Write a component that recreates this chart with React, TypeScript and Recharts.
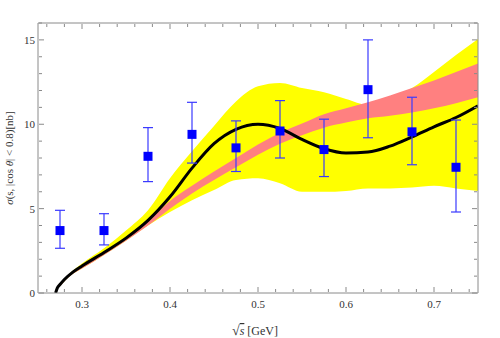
import React from 'react';
import {
  ComposedChart,
  Area,
  Line,
  Scatter,
  ErrorBar,
  XAxis,
  YAxis,
} from 'recharts';

// theory curves, sampled along sqrt(s) in GeV
const xs = [0.27, 0.272, 0.275, 0.28, 0.29, 0.3, 0.325, 0.35, 0.375, 0.4, 0.425, 0.45, 0.475, 0.5, 0.525, 0.55, 0.575, 0.6, 0.625, 0.65, 0.675, 0.7, 0.725, 0.75];
const central = [0, 0.3, 0.5, 0.8, 1.25, 1.6, 2.4, 3.25, 4.3, 5.7, 7.4, 8.85, 9.7, 10.0, 9.75, 9.1, 8.55, 8.3, 8.35, 8.7, 9.25, 9.85, 10.4, 11.1];
const pinkLow = [0, 0.25, 0.4, 0.7, 1.15, 1.45, 2.25, 3.1, 4.0, 5.0, 5.9, 6.7, 7.45, 8.2, 8.85, 9.35, 9.8, 10.1, 10.35, 10.5, 10.7, 10.95, 11.25, 11.6];
const pinkHigh = [0, 0.3, 0.5, 0.8, 1.25, 1.6, 2.4, 3.25, 4.25, 5.45, 6.35, 7.2, 8.0, 8.8, 9.5, 10.05, 10.6, 10.95, 11.3, 11.7, 12.15, 12.6, 13.1, 13.6];
const yellowLow = [0, 0.25, 0.4, 0.7, 1.15, 1.45, 2.25, 3.1, 4.0, 4.8, 5.5, 6.1, 6.7, 6.8, 6.5, 6.0, 6.0, 6.05, 6.2, 6.2, 6.25, 6.35, 6.2, 6.05];
const yellowHigh = [0, 0.35, 0.55, 0.85, 1.35, 1.75, 2.65, 3.7, 4.9, 6.8, 8.4, 9.9, 11.35, 12.25, 12.45, 12.15, 11.9, 11.5, 11.15, 11.5, 12.15, 13.1, 14.1, 15.05];

// measured points
const px = [0.275, 0.325, 0.375, 0.425, 0.475, 0.525, 0.575, 0.625, 0.675, 0.725];
const py = [3.7, 3.7, 8.1, 9.4, 8.6, 9.6, 8.5, 12.05, 9.55, 7.45];
const errUp = [1.2, 1.0, 1.7, 1.9, 1.6, 1.8, 1.8, 2.95, 2.05, 2.8];
const errDown = [1.05, 0.85, 1.5, 1.7, 1.4, 1.6, 1.6, 2.85, 1.95, 2.65];

const xTicks = [0.26, 0.28, 0.3, 0.32, 0.34, 0.36, 0.38, 0.4, 0.42, 0.44, 0.46, 0.48, 0.5, 0.52, 0.54, 0.56, 0.58, 0.6, 0.62, 0.64, 0.66, 0.68, 0.7, 0.72, 0.74];
const yTicks = [0, 1, 2, 3, 4, 5, 6, 7, 8, 9, 10, 11, 12, 13, 14, 15, 16];

const curveData = xs.map((x, i) => ({
  x,
  central: central[i],
  pink: [pinkLow[i], pinkHigh[i]],
  yellow: [yellowLow[i], yellowHigh[i]],
}));

const pointData = px.map((x, i) => ({ x, y: py[i], err: [errDown[i], errUp[i]] }));

const FRAME = '#8a8a8a';
const FONT = 'Liberation Serif';
const TEXT = '#333';

const isMajorX = (v: number) => Math.abs(v * 10 - Math.round(v * 10)) < 1e-6;
const isMajorY = (v: number) => v % 5 === 0;

// ticks point inward, labels sit outside the frame
const BottomTick = (props: any) => {
  const { x, y, payload } = props;
  const major = isMajorX(payload.value);
  return (
    <g>
      <line x1={x} x2={x} y1={y - 1} y2={y - 1 - (major ? 5 : 3)} stroke={FRAME} />
      {major && (
        <text x={x} y={y + 15} textAnchor="middle" fontFamily={FONT} fontSize={11} fill={TEXT}>
          {payload.value.toFixed(1)}
        </text>
      )}
    </g>
  );
};

const TopTick = (props: any) => {
  const { x, y, payload } = props;
  const major = isMajorX(payload.value);
  return <line x1={x} x2={x} y1={y + 1} y2={y + 1 + (major ? 5 : 3)} stroke={FRAME} />;
};

const LeftTick = (props: any) => {
  const { x, y, payload } = props;
  const major = isMajorY(payload.value);
  return (
    <g>
      <line x1={x + 1} x2={x + 1 + (major ? 5 : 3)} y1={y} y2={y} stroke={FRAME} />
      {major && payload.value < 16 && (
        <text x={x - 3} y={y + 4} textAnchor="end" fontFamily={FONT} fontSize={11} fill={TEXT}>
          {payload.value}
        </text>
      )}
    </g>
  );
};

const RightTick = (props: any) => {
  const { x, y, payload } = props;
  const major = isMajorY(payload.value);
  return <line x1={x - 1} x2={x - 1 - (major ? 5 : 3)} y1={y} y2={y} stroke={FRAME} />;
};

const SquareDot = (props: any) => {
  const { cx, cy } = props;
  return <rect x={cx - 4.5} y={cy - 4.5} width={9} height={9} fill="#0000ff" />;
};

export default function App() {
  return (
    <div style={{ position: 'absolute', left: 0, top: 0, width: 500, height: 338 }}>
      <ComposedChart
        width={500}
        height={338}
        data={curveData}
        margin={{ top: 22, right: 21, bottom: 44, left: 37 }}
      >
        <XAxis
          dataKey="x"
          type="number"
          domain={[0.25, 0.75]}
          ticks={xTicks}
          interval={0}
          allowDataOverflow
          height={1}
          tickSize={0}
          tickMargin={0}
          tick={<BottomTick />}
          axisLine={{ stroke: FRAME }}
          tickLine={false}
        />
        <XAxis
          xAxisId="top"
          orientation="top"
          dataKey="x"
          type="number"
          domain={[0.25, 0.75]}
          ticks={xTicks}
          interval={0}
          allowDataOverflow
          height={1}
          tickSize={0}
          tickMargin={0}
          tick={<TopTick />}
          axisLine={{ stroke: FRAME }}
          tickLine={false}
        />
        <YAxis
          type="number"
          domain={[0, 16]}
          ticks={yTicks}
          interval={0}
          allowDataOverflow
          width={1}
          tickSize={0}
          tickMargin={0}
          tick={<LeftTick />}
          axisLine={{ stroke: FRAME }}
          tickLine={false}
        />
        <YAxis
          yAxisId="right"
          orientation="right"
          type="number"
          domain={[0, 16]}
          ticks={yTicks}
          interval={0}
          allowDataOverflow
          width={1}
          tickSize={0}
          tickMargin={0}
          tick={<RightTick />}
          axisLine={{ stroke: FRAME }}
          tickLine={false}
        />
        <Area
          type="monotone"
          dataKey="yellow"
          stroke="none"
          fill="#ffff00"
          fillOpacity={1}
          isAnimationActive={false}
        />
        <Area
          type="monotone"
          dataKey="pink"
          stroke="none"
          fill="#ff8080"
          fillOpacity={1}
          isAnimationActive={false}
        />
        <Line
          type="monotone"
          dataKey="central"
          stroke="#000"
          strokeWidth={3}
          dot={false}
          isAnimationActive={false}
        />
        <Scatter data={pointData} dataKey="y" shape={<SquareDot />} isAnimationActive={false}>
          <ErrorBar dataKey="err" direction="y" width={5} stroke="#3a3aff" strokeWidth={1.2} />
        </Scatter>
      </ComposedChart>
      <svg
        width={500}
        height={338}
        style={{ position: 'absolute', left: 0, top: 0, pointerEvents: 'none' }}
      >
        <text
          x={255}
          y={335}
          textAnchor="middle"
          fontFamily={FONT}
          fontSize={12}
          fill={TEXT}
        >
          <tspan fontSize={14}>√</tspan>
          <tspan fontStyle="italic" style={{ textDecoration: 'overline' }}>s</tspan> [GeV]
        </text>
        <text
          transform="translate(13,158) rotate(-90)"
          textAnchor="middle"
          fontFamily={FONT}
          fontSize={11}
          fill={TEXT}
        >
          <tspan fontStyle="italic">σ</tspan>(s, |cos <tspan fontStyle="italic">θ</tspan>| &lt; 0.8)[nb]
        </text>
      </svg>
    </div>
  );
}
